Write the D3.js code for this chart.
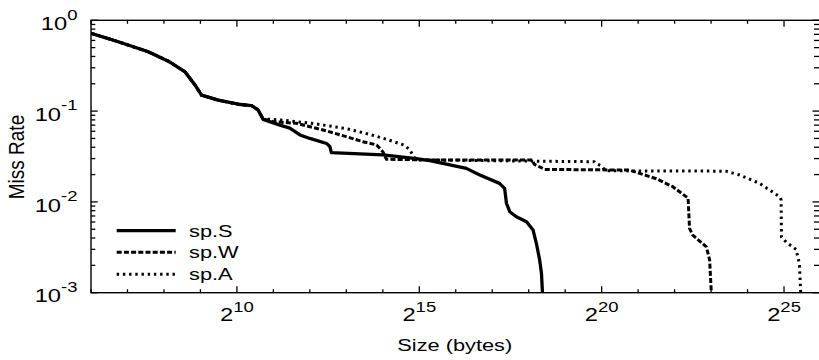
<!DOCTYPE html>
<html>
<head>
<meta charset="utf-8">
<script src="https://cdn.jsdelivr.net/npm/d3@7"></script>
<style>
  html, body { margin: 0; padding: 0; background: #fff; }
  svg { display: block; }
  text { font-family: "Liberation Sans", Arial, Helvetica, sans-serif; fill: #000; }
</style>
</head>
<body>
<svg id="chart" width="819" height="360"></svg>
<script>
// ---- data (x values are log2 of size in bytes) ----
const seriesNames = ["sp.S", "sp.W", "sp.A"];

const sizeLog2S = [6, 6.75, 7.57, 8.12, 8.58, 8.85, 9.03, 9.49, 10.04, 10.4, 10.58, 10.72, 11.18, 11.45, 11.73, 12.0, 12.46, 12.55, 12.59, 14.0, 14.92, 15.29, 15.84, 16.29, 16.66, 17.2, 17.34, 17.39, 17.48, 17.66, 17.94, 18.12, 18.21, 18.3, 18.35, 18.38];
const missS     = [0.72, 0.58, 0.45, 0.355, 0.27, 0.194, 0.150, 0.132, 0.119, 0.115, 0.103, 0.081, 0.070, 0.065, 0.0546, 0.050, 0.044, 0.0406, 0.0348, 0.0329, 0.030, 0.0284, 0.0255, 0.0234, 0.0198, 0.016, 0.0141, 0.00966, 0.0078, 0.00687, 0.00605, 0.0049, 0.0035, 0.0023, 0.00164, 0.00095];

const sizeLog2W = [6, 6.75, 7.57, 8.12, 8.58, 8.85, 9.03, 9.49, 10.04, 10.4, 10.58, 10.72, 11.0, 11.63, 12.36, 13.0, 13.46, 13.83, 14.0, 14.1, 15.3, 18.1, 18.15, 18.44, 20.77, 21.04, 21.5, 21.95, 22.37, 22.41, 22.5, 22.87, 22.96, 23.01];
const missW     = [0.72, 0.58, 0.45, 0.355, 0.27, 0.194, 0.150, 0.132, 0.119, 0.115, 0.103, 0.082, 0.0764, 0.0734, 0.062, 0.0523, 0.046, 0.0424, 0.0357, 0.0295, 0.029, 0.029, 0.026, 0.0228, 0.0224, 0.0206, 0.018, 0.0147, 0.011, 0.0051, 0.0043, 0.0032, 0.0023, 0.00095];

const sizeLog2A = [6, 6.75, 7.57, 8.12, 8.58, 8.85, 9.03, 9.49, 10.04, 10.4, 10.58, 10.72, 11.2, 12.1, 12.64, 13.0, 13.6, 14.1, 14.6, 14.75, 14.85, 15.0, 18.5, 19.8, 19.85, 20.0, 20.1, 23.4, 23.78, 24.33, 24.88, 24.92, 24.93, 25.06, 25.33, 25.42, 25.46];
const missA     = [0.72, 0.58, 0.45, 0.355, 0.27, 0.194, 0.150, 0.132, 0.119, 0.115, 0.103, 0.082, 0.0798, 0.073, 0.0675, 0.064, 0.056, 0.049, 0.042, 0.037, 0.031, 0.029, 0.028, 0.0277, 0.0265, 0.0248, 0.022, 0.0218, 0.0198, 0.016, 0.0114, 0.0105, 0.0041, 0.0036, 0.0030, 0.0021, 0.00095];

const xTickExps = [6,7,8,9,10,11,12,13,14,15,16,17,18,19,20,21,22,23,24,25,26];
const xLabelExps = [10, 15, 20, 25];
const yMajor = [1e-3, 1e-2, 1e-1, 1];
const yLabelExps = ["-3", "-2", "-1", "0"];
const xTitle = "Size (bytes)";
const yTitle = "Miss Rate";

// ---- layout ----
const L = 91, R = 820.5, T = 20.3, B = 292.7;
const SX = 1.32; // horizontal stretch of the lettering

const svg = d3.select("#chart");
const x = d3.scaleLog().base(2).domain([Math.pow(2, 6), Math.pow(2, 26)]).range([L, R]);
const y = d3.scaleLog().domain([1e-3, 1]).range([B, T]);

svg.append("defs").append("clipPath").attr("id", "clip")
  .append("rect").attr("x", L).attr("y", T).attr("width", R - L).attr("height", B - T);

// y minor ticks
const yMinor = [];
for (let d = -3; d < 0; d++) for (let m = 2; m <= 9; m++) yMinor.push(m * Math.pow(10, d));

const axisG = svg.append("g").attr("stroke", "#000").attr("stroke-width", 1.3);
yMinor.forEach(v => {
  axisG.append("line").attr("x1", L).attr("x2", L + 4.3).attr("y1", y(v)).attr("y2", y(v));
  axisG.append("line").attr("x1", R).attr("x2", R - 6.5).attr("y1", y(v)).attr("y2", y(v));
});
yMajor.forEach(v => {
  axisG.append("line").attr("x1", L).attr("x2", L + 6.7).attr("y1", y(v)).attr("y2", y(v));
  axisG.append("line").attr("x1", R).attr("x2", R - 8).attr("y1", y(v)).attr("y2", y(v));
});
xTickExps.forEach(e => {
  const major = xLabelExps.includes(e);
  const len = major ? 6.5 : 3.5;
  const px = x(Math.pow(2, e));
  axisG.append("line").attr("x1", px).attr("x2", px).attr("y1", B).attr("y2", B - len);
  axisG.append("line").attr("x1", px).attr("x2", px).attr("y1", T).attr("y2", T + len);
});
svg.append("rect").attr("x", L).attr("y", T).attr("width", R - L).attr("height", B - T)
  .attr("fill", "none").attr("stroke", "#000").attr("stroke-width", 1.4);

// y labels
yMajor.forEach((v, i) => {
  const t = svg.append("text")
    .attr("transform", `translate(77.5,${y(v) + 9.7}) scale(${SX},1)`)
    .attr("text-anchor", "end").style("font-size", "18px");
  t.append("tspan").text("10");
  t.append("tspan").attr("dy", -10.5).style("font-size", "14px").text(yLabelExps[i]);
});
// x labels
xLabelExps.forEach(e => {
  const t = svg.append("text")
    .attr("transform", `translate(${x(Math.pow(2, e))},320.5) scale(${SX},1)`)
    .attr("text-anchor", "middle").style("font-size", "18px");
  t.append("tspan").text("2");
  t.append("tspan").attr("dy", -8.5).style("font-size", "14px").text(String(e));
});

// axis titles
svg.append("text").attr("transform", `translate(${(L + R) / 2 - 1},351) scale(${SX},1)`)
  .attr("text-anchor", "middle").style("font-size", "16.5px").text(xTitle);
svg.append("text").attr("transform", `translate(23.5,157) scale(1.2,1) rotate(-90)`)
  .attr("text-anchor", "middle").style("font-size", "19px").text(yTitle);

// curves
const styles = [
  { dash: null, width: 3.3 },
  { dash: "5,2.2", width: 3.0 },
  { dash: "2.4,3.8", width: 3.0 }
];
const data = [
  d3.zip(sizeLog2S, missS),
  d3.zip(sizeLog2W, missW),
  d3.zip(sizeLog2A, missA)
];
const line = d3.line().x(d => x(Math.pow(2, d[0]))).y(d => y(d[1]));
const plot = svg.append("g").attr("clip-path", "url(#clip)");
data.forEach((pts, i) => {
  plot.append("path").attr("d", line(pts)).attr("fill", "none").attr("stroke", "#000")
    .attr("stroke-width", styles[i].width).attr("stroke-linejoin", "round")
    .attr("stroke-dasharray", styles[i].dash);
});

// legend
const legY = [230.7, 252.3, 274.3];
seriesNames.forEach((name, i) => {
  svg.append("line").attr("x1", 116.7).attr("x2", 175.7).attr("y1", legY[i]).attr("y2", legY[i])
    .attr("stroke", "#000").attr("stroke-width", styles[i].width)
    .attr("stroke-dasharray", styles[i].dash);
  svg.append("text").attr("transform", `translate(189,${legY[i] + 6}) scale(${SX},1)`)
    .style("font-size", "16.5px").text(name);
});
</script>
</body>
</html>
